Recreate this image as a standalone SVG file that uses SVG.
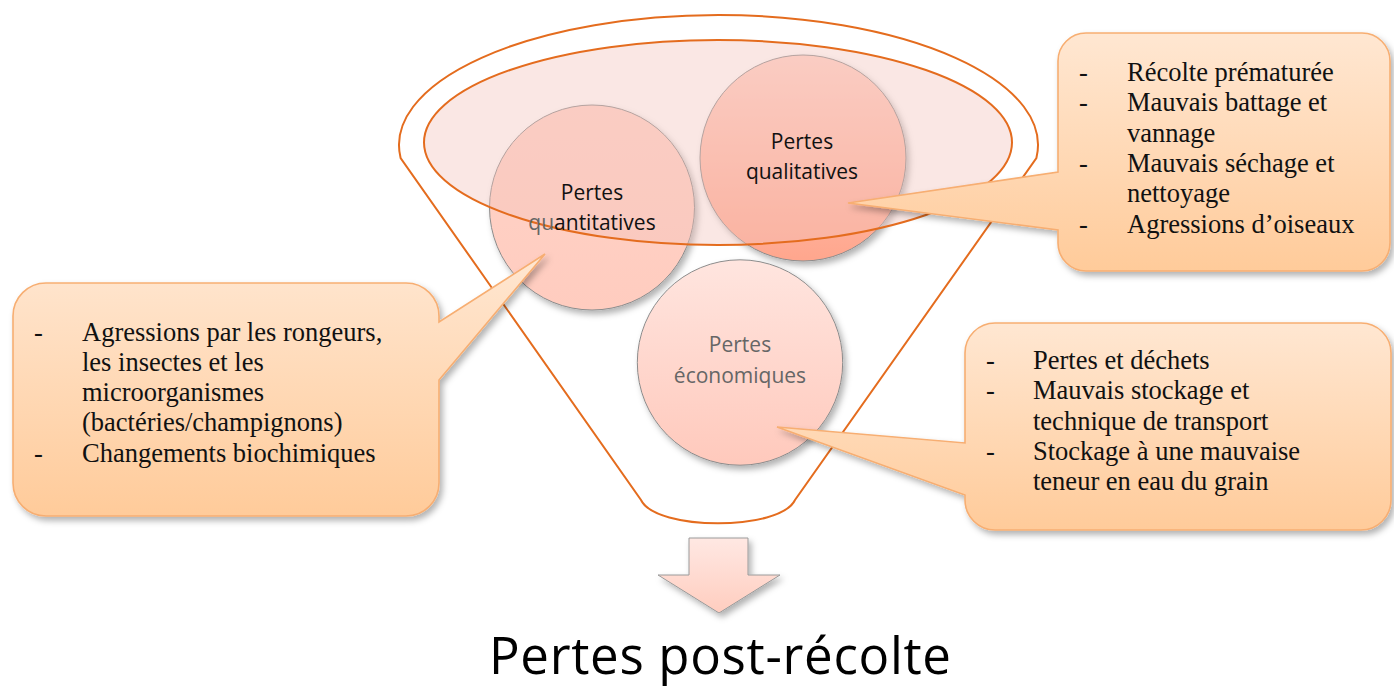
<svg xmlns="http://www.w3.org/2000/svg" width="1394" height="688" viewBox="0 0 1394 688">
<defs>
<style>
.funnel{fill:none;stroke:#E46C1E;stroke-width:2}
.circ{stroke:#8c8c8c;stroke-width:1;filter:url(#sh)}
.ctxt{font-family:"Open Sans","DejaVu Sans",sans-serif;font-size:21px;text-anchor:middle;fill:#111}
.box{fill:url(#gBox);stroke:#F7AE72;stroke-width:1.6;filter:url(#sh)}
.btxt{font-family:"Liberation Serif","Times New Roman",serif;font-size:26.5px;fill:#111}
</style>
<filter id="sh" x="-20%" y="-20%" width="140%" height="140%">
<feDropShadow dx="3" dy="4" stdDeviation="3" flood-color="#000" flood-opacity="0.3"/>
</filter>
<linearGradient id="gBox" x1="0" y1="0" x2="0" y2="1">
<stop offset="0" stop-color="#FFE7D2"/>
<stop offset="1" stop-color="#FFCB9A"/>
</linearGradient>
<linearGradient id="gQuant" x1="0" y1="0" x2="0" y2="1">
<stop offset="0" stop-color="#FFD3C8"/>
<stop offset="1" stop-color="#FFCCBF"/>
</linearGradient>
<linearGradient id="gQual" x1="0" y1="0" x2="0" y2="1">
<stop offset="0" stop-color="#FFD3C8"/>
<stop offset="1" stop-color="#FFA68D"/>
</linearGradient>
<linearGradient id="gEco" x1="0" y1="0" x2="0" y2="1">
<stop offset="0" stop-color="#FFE5DF"/>
<stop offset="1" stop-color="#FFC9BC"/>
</linearGradient>
<linearGradient id="gArrow" x1="0" y1="0" x2="0" y2="1">
<stop offset="0" stop-color="#FFE8E3"/>
<stop offset="1" stop-color="#FFCDBF"/>
</linearGradient>
</defs>
<rect width="1394" height="688" fill="#ffffff"/>

<g id="funnel">
<path class="funnel" d="M 400.6,158 A 319.5 130 0 1 1 1036.4,158 L 795,500 C 780,531 656,531 641,500 Z"/>
</g>

<g id="node-quantitatives">
<circle class="circ" cx="592" cy="207.5" r="102.5" fill="url(#gQuant)"/>
</g>
<g id="node-qualitatives">
<circle class="circ" cx="803" cy="158" r="103" fill="url(#gQual)"/>
</g>
<g id="node-economiques">
<circle class="circ" cx="740" cy="362.5" r="102.7" fill="url(#gEco)"/>
</g>

<g id="funnel-top">
<ellipse cx="718" cy="142.5" rx="294" ry="102.5" fill="#F2C4BC" fill-opacity="0.4" stroke="#E46C1E" stroke-width="2"/>
</g>

<g id="labels">
<text class="ctxt" x="592" y="199.5">Pertes</text>
<text class="ctxt" x="592" y="229.5"><tspan fill="#666">qu</tspan>antitatives</text>
<text class="ctxt" x="802" y="148.5">Pertes</text>
<text class="ctxt" x="802" y="178.5">qualitatives</text>
<text class="ctxt" x="740" y="352" style="fill:#666">Pertes</text>
<text class="ctxt" x="740" y="383" style="fill:#666">économiques</text>
</g>

<g id="result-arrow">
<polygon points="689,538 748,538 748,575 780,575 719,613 658,575 689,575" fill="url(#gArrow)" stroke="#9a9a9a" stroke-width="1" filter="url(#sh)"/>
</g>
<g id="title">
<text x="720" y="674" font-family="'Open Sans','DejaVu Sans',sans-serif" font-size="51" text-anchor="middle" fill="#000" textLength="462" lengthAdjust="spacing">Pertes post-récolte</text>
</g>

<g id="callout-quantitatives">
<path class="box" d="M 46,283 H 406 A 33 33 0 0 1 439,316 V 322 L 545,254 L 439,380 V 483 A 33 33 0 0 1 406,516 H 46 A 33 33 0 0 1 13,483 V 316 A 33 33 0 0 1 46,283 Z"/>
<text class="btxt" x="34" y="340.5">-</text>
<text class="btxt" x="82" y="340.5">Agressions par les rongeurs,</text>
<text class="btxt" x="82" y="371">les insectes et les</text>
<text class="btxt" x="82" y="401">microorganismes</text>
<text class="btxt" x="82" y="431">(bactéries/champignons)</text>
<text class="btxt" x="34" y="461.5">-</text>
<text class="btxt" x="82" y="461.5">Changements biochimiques</text>
</g>

<g id="callout-qualitatives">
<path class="box" d="M 1086,33 H 1362 A 28 28 0 0 1 1390,61 V 243 A 28 28 0 0 1 1362,271 H 1086 A 28 28 0 0 1 1058,243 V 230 L 848,203 L 1058,172 V 61 A 28 28 0 0 1 1086,33 Z"/>
<text class="btxt" x="1079" y="80.5">-</text>
<text class="btxt" x="1127" y="80.5">Récolte prématurée</text>
<text class="btxt" x="1079" y="111">-</text>
<text class="btxt" x="1127" y="111">Mauvais battage et</text>
<text class="btxt" x="1127" y="141.5">vannage</text>
<text class="btxt" x="1079" y="172">-</text>
<text class="btxt" x="1127" y="172">Mauvais séchage et</text>
<text class="btxt" x="1127" y="202">nettoyage</text>
<text class="btxt" x="1079" y="232.5">-</text>
<text class="btxt" x="1127" y="232.5">Agressions d’oiseaux</text>
</g>

<g id="callout-economiques">
<path class="box" d="M 995,323 H 1361 A 30 30 0 0 1 1391,353 V 500 A 30 30 0 0 1 1361,530 H 995 A 30 30 0 0 1 965,500 V 495 L 777,427 L 965,443 V 353 A 30 30 0 0 1 995,323 Z"/>
<text class="btxt" x="986" y="368.5">-</text>
<text class="btxt" x="1033" y="368.5">Pertes et déchets</text>
<text class="btxt" x="986" y="399">-</text>
<text class="btxt" x="1033" y="399">Mauvais stockage et</text>
<text class="btxt" x="1033" y="429.5">technique de transport</text>
<text class="btxt" x="986" y="459.5">-</text>
<text class="btxt" x="1033" y="459.5">Stockage à une mauvaise</text>
<text class="btxt" x="1033" y="490">teneur en eau du grain</text>
</g>
</svg>
